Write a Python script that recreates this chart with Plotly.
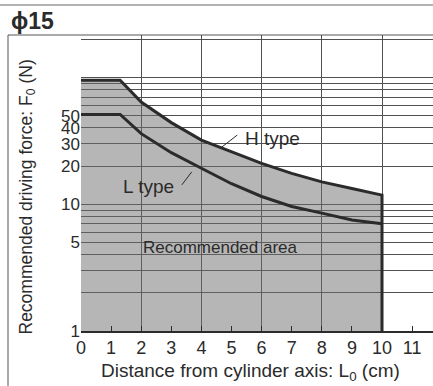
import plotly.graph_objects as go

# ---- data ----
distance_cm = [0, 1.3, 2, 3, 4, 5, 6, 7, 8, 9, 10]
h_type_force = [95, 95, 64, 44, 32, 26, 21, 17.5, 15, 13.3, 11.8]
l_type_force = [51, 51, 36, 25.5, 19.2, 14.5, 11.5, 9.6, 8.5, 7.5, 7.0]

x_ticks = list(range(0, 12))
y_ticks = [1, 5, 10, 20, 30, 40, 50]
y_grid = [1, 2, 3, 4, 5, 6, 7, 8, 9, 10, 20, 30, 40, 50, 60, 70, 80, 90, 100, 200]
x_grid = [0, 2, 4, 6, 8, 10]

W, H = 433, 386
ML, MR, MT, MB = 81, 0, 35, 55
ink = "#2b2b2b"
grid = "#505050"
font = "Liberation Sans, Arial, sans-serif"

fig = go.Figure()

# recommended area (under H type curve)
fig.add_trace(go.Scatter(
    x=distance_cm + [distance_cm[-1], distance_cm[0]],
    y=h_type_force + [1, 1],
    fill="toself", mode="none",
    fillcolor="rgba(110,110,110,0.5)",
    hoverinfo="skip", showlegend=False))

# H type curve (with drop at right end)
fig.add_trace(go.Scatter(
    x=distance_cm + [distance_cm[-1]], y=h_type_force + [1],
    mode="lines", line=dict(color=ink, width=3), showlegend=False))
# L type curve
fig.add_trace(go.Scatter(
    x=distance_cm, y=l_type_force,
    mode="lines", line=dict(color=ink, width=3), showlegend=False))

# leader lines
fig.add_trace(go.Scatter(x=[4.67, 5.19], y=[28.1, 35.1], mode="lines",
                         line=dict(color=ink, width=1), showlegend=False))
fig.add_trace(go.Scatter(x=[3.35, 3.68], y=[14.2, 18.0], mode="lines",
                         line=dict(color=ink, width=1), showlegend=False))

fig.add_annotation(x=6.35, y=1.522, text="H type", showarrow=False,
                   xanchor="center", yanchor="middle",
                   font=dict(size=19, color=ink, family=font))
fig.add_annotation(x=2.24, y=1.1435, text="L type", showarrow=False,
                   xanchor="center", yanchor="middle",
                   font=dict(size=19, color=ink, family=font))
fig.add_annotation(x=4.63, y=0.655, text="Recommended area", showarrow=False,
                   xanchor="center", yanchor="middle",
                   font=dict(size=17, color=ink, family=font))

pw, ph = W - ML - MR, H - MT - MB
def px(xp): return (xp - ML) / pw
def py(yp): return (H - MB - yp) / ph

fig.add_annotation(xref="paper", yref="paper", x=px(27), y=py(197.5),
                   xanchor="center", yanchor="middle",
                   text="Recommended driving force: F<sub>0</sub> (N)",
                   textangle=-90, showarrow=False,
                   font=dict(size=17.5, color=ink, family=font))
fig.add_annotation(xref="paper", yref="paper", x=px(250), y=py(372),
                   xanchor="center", yanchor="middle",
                   text="Distance from cylinder axis: L<sub>0</sub> (cm)",
                   showarrow=False, font=dict(size=19, color=ink, family=font))
fig.add_annotation(xref="paper", yref="paper", x=px(9), y=py(21),
                   xanchor="left", yanchor="middle", text="<b>ϕ15</b>",
                   showarrow=False,
                   font=dict(size=23, color=ink, family=font))

# frame lines
fig.add_shape(type="line", xref="paper", yref="paper", x0=px(0), x1=px(433),
              y0=py(5), y1=py(5), line=dict(color="#666", width=1))
fig.add_shape(type="line", xref="paper", yref="paper", x0=px(8), x1=px(433),
              y0=py(35), y1=py(35), line=dict(color="#555", width=1))
fig.add_shape(type="line", xref="paper", yref="paper", x0=px(8), x1=px(8),
              y0=py(35), y1=py(386), line=dict(color="#555", width=1))

fig.update_layout(
    width=W, height=H, margin=dict(l=ML, r=MR, t=MT, b=MB),
    paper_bgcolor="white", plot_bgcolor="white",
    font=dict(family=font, color=ink),
    xaxis=dict(range=[0, (W - ML) / 30.1], tickvals=x_ticks,
               ticks="inside", ticklen=5, tickcolor=ink, showgrid=False,
               zeroline=False, showline=True, linecolor=ink, linewidth=1.5,
               tickfont=dict(size=18, color=ink),
               minor=dict(tickvals=x_grid, showgrid=True, gridcolor=grid,
                          gridwidth=1, ticks="")),
    yaxis=dict(type="log", range=[0, 296 / 126.8], tickvals=y_ticks,
               ticktext=[str(v) for v in y_ticks],
               ticks="", showgrid=False, zeroline=False, showline=False,
               tickfont=dict(size=17, color=ink),
               minor=dict(tickvals=y_grid, showgrid=True, gridcolor=grid,
                          gridwidth=1, ticks="")),
)

fig.write_html("out.html")
